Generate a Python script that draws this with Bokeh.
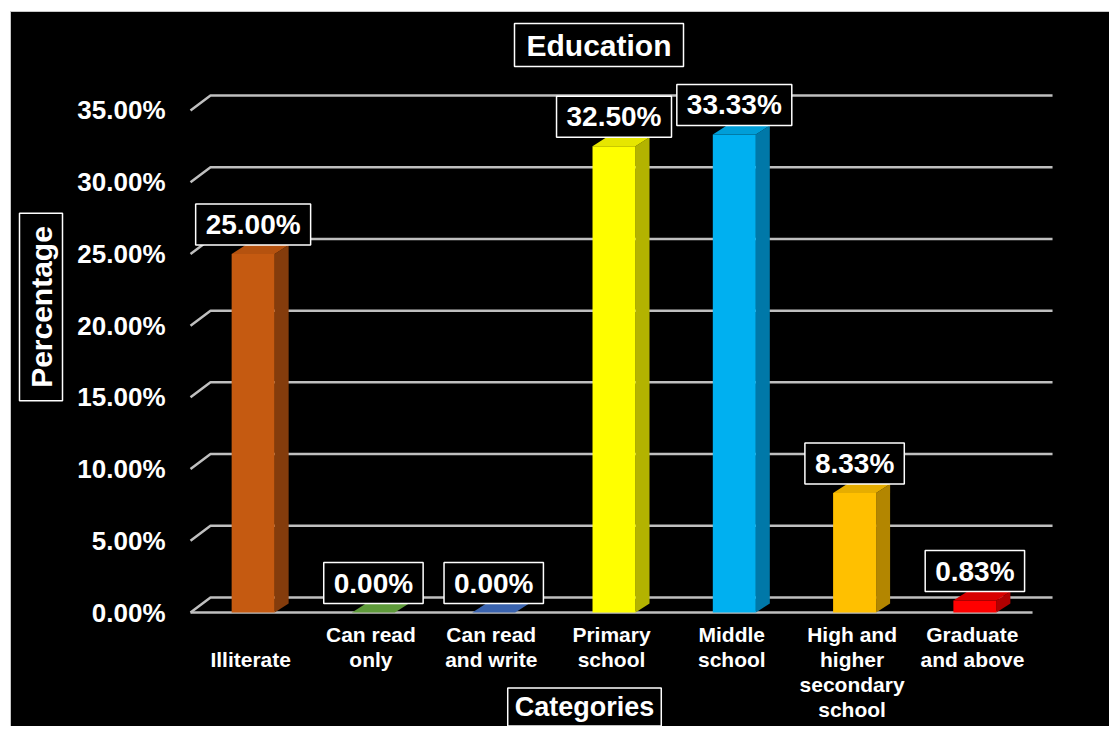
import math
import numpy as np
from bokeh.plotting import figure
from bokeh.models import Range1d, Label
from bokeh.embed import file_html
from bokeh.resources import INLINE

# ---------------- data ----------------
categories = ["Illiterate", "Can read\nonly", "Can read\nand write", "Primary\nschool",
              "Middle\nschool", "High and\nhigher\nsecondary\nschool", "Graduate\nand above"]
values = [25.00, 0.00, 0.00, 32.50, 33.33, 8.33, 0.83]
value_labels = ["25.00%", "0.00%", "0.00%", "32.50%", "33.33%", "8.33%", "0.83%"]
y_ticks = [0, 5, 10, 15, 20, 25, 30, 35]
y_tick_labels = ["0.00%", "5.00%", "10.00%", "15.00%", "20.00%", "25.00%", "30.00%", "35.00%"]
title_text = "Education"
x_title = "Categories"
y_title = "Percentage"

# ---------------- styles ----------------
front_colors = ["#C55A11", "#70AD47", "#4472C4", "#FFFF00", "#00B0F0", "#FFC000", "#FF0000"]
side_colors = ["#843C0C", "#4E7A31", "#2F5597", "#B3B300", "#0078A8", "#B38600", "#B00000"]
top_colors = ["#B5520F", "#5E9A3A", "#3A63AE", "#E6E600", "#009ED8", "#E6AD00", "#D80000"]
label_line_shift = [25, 0, 0, 0, 0, 0, 0]   # px, first label sits on the second line
FONT = "Liberation Sans"
GRID_COLOR = "#BFBFBF"

# ---------------- geometry (pixels -> data) ----------------
W, H = 1109, 726
FLOOR_LEFT_PX, FLOOR_BOTTOM_PX = 190, 612
PX_X = 120.29                            # px per category
PX_Y = 14.343                            # px per percent
GRID_DX, GRID_DY = 20 / PX_X, 15 / PX_Y  # back wall offset
BAR_W = 43 / PX_X
BAR_DX, BAR_DY = 14 / PX_X, 9 / PX_Y     # bar depth
BAR_SHIFT = 2.5 / PX_X

x_start = -0.5 - FLOOR_LEFT_PX / PX_X
x_end = x_start + W / PX_X
y_start = -(H - FLOOR_BOTTOM_PX) / PX_Y
y_end = FLOOR_BOTTOM_PX / PX_Y

def cx(px):   # canvas px -> data x
    return x_start + px / PX_X

def cy(py):   # canvas px -> data y
    return (FLOOR_BOTTOM_PX - py) / PX_Y

p = figure(width=W, height=H, output_backend="svg", toolbar_location=None,
           x_range=Range1d(x_start, x_end), y_range=Range1d(y_start, y_end),
           x_axis_location=None, y_axis_location=None, min_border=0,
           background_fill_color="white", border_fill_color="white")
p.outline_line_color = None
p.xgrid.visible = False
p.ygrid.visible = False

# black chart area
p.quad(left=cx(10), right=cx(W + 10), top=cy(11), bottom=cy(H + 10),
       fill_color="black", line_color="#C8C8C8", line_width=1)

n = len(categories)

# back wall gridlines with diagonal stubs
left, right = -0.5, n - 0.5
gx = [[left, left + GRID_DX, right + GRID_DX] for t in y_ticks]
gy = [[t, t + GRID_DY, t + GRID_DY] for t in y_ticks]
p.multi_line(gx, gy, line_color=GRID_COLOR, line_width=2.5)
p.line([left, right], [0, 0], line_color=GRID_COLOR, line_width=2.5)

# y tick labels (front plane)
p.text(x=[cx(165)] * len(y_ticks), y=y_ticks, text=y_tick_labels, text_align="right",
       text_baseline="middle", text_color="white", text_font={"value": FONT},
       text_font_style="bold", text_font_size="26px")

# category labels
p.text(x=list(range(n)), y=[cy(622)] * n, text=categories, text_align="center",
       text_baseline="top", text_color="white", text_font={"value": FONT},
       text_font_style="bold", text_font_size="21px", text_line_height=1.1,
       y_offset=label_line_shift)

# 3D bars
xc = np.arange(n) + BAR_SHIFT
v = np.array(values)
bl = xc - BAR_W / 2
br = xc + BAR_W / 2
side_xs = [[br[i], br[i] + BAR_DX, br[i] + BAR_DX, br[i]] for i in range(n)]
side_ys = [[0, BAR_DY, v[i] + BAR_DY, v[i]] for i in range(n)]
top_xs = [[bl[i], br[i], br[i] + BAR_DX, bl[i] + BAR_DX] for i in range(n)]
top_ys = [[v[i], v[i], v[i] + BAR_DY, v[i] + BAR_DY] for i in range(n)]
p.patches(side_xs, side_ys, fill_color=side_colors, line_color=None)
p.quad(left=bl, right=br, bottom=0, top=v, fill_color=front_colors, line_color=None)
p.patches(top_xs, top_ys, fill_color=top_colors, line_color=None)

box = dict(background_fill_color="black", border_line_color="white", border_line_width=1.5,
           text_color="white", text_font=FONT, text_font_style="bold")

for i in range(n):
    p.add_layout(Label(x=xc[i], y=v[i] + BAR_DY, text=value_labels[i],
                       text_align="center", text_baseline="bottom", text_font_size="28px",
                       padding=dict(x=10, y=5), **box))

p.add_layout(Label(x=cx(598.5), y=cy(44.5), text=title_text, text_align="center",
                   text_baseline="middle", text_font_size="30px", padding=dict(x=12, y=5), **box))
p.add_layout(Label(x=cx(584), y=cy(706.5), text=x_title, text_align="center",
                   text_baseline="middle", text_font_size="27px", padding=dict(x=7, y=4), **box))
p.add_layout(Label(x=cx(40.5), y=cy(306.5), text=y_title, text_align="center",
                   text_baseline="middle", text_font_size="30px", angle=math.pi / 2,
                   padding=dict(x=13, y=5), **box))

open("out.html", "w").write(file_html(p, INLINE))
